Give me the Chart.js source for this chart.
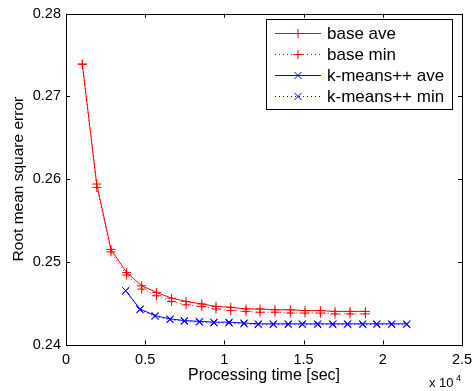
<!DOCTYPE html>
<html>
<head>
<meta charset="utf-8">
<script src="https://cdn.jsdelivr.net/npm/chart.js@4/dist/chart.umd.min.js"></script>
<style>
  html, body { margin: 0; padding: 0; background: #fff; }
  #wrap { width: 473px; height: 391px; position: relative; }
</style>
</head>
<body>
<div id="wrap"><canvas id="rmseChart"></canvas></div>
<script>
// processing time in seconds, RMSE values
const baseTime = [1030, 1940, 2840, 3830, 4780, 5720, 6670, 7580, 8570, 9470,
                  10400, 11360, 12250, 13190, 14160, 15090, 16060, 16980, 17930, 18900];
const baseAve  = [0.2739, 0.2594, 0.2515, 0.2487, 0.2471, 0.2463, 0.2456, 0.2452, 0.2449, 0.2446,
                  0.2445, 0.2443, 0.2443, 0.2442, 0.2442, 0.2441, 0.2441, 0.2440, 0.2440, 0.2440];
const baseMin  = [0.2739, 0.2590, 0.2512, 0.2484, 0.2467, 0.2459, 0.2452, 0.2448, 0.2446, 0.2443,
                  0.2441, 0.2440, 0.2439, 0.2439, 0.2438, 0.2438, 0.2438, 0.2437, 0.2437, 0.2437];

const kmTime = [3770, 4670, 5620, 6570, 7470, 8420, 9340, 10290, 11240, 12140,
                13090, 14030, 14920, 15890, 16840, 17780, 18730, 19620, 20560, 21510];
const kmAve  = [0.2465, 0.2443, 0.2435, 0.2431, 0.2429, 0.2428, 0.2427, 0.2427, 0.2426, 0.2425,
                0.2425, 0.2425, 0.2425, 0.2425, 0.2425, 0.2425, 0.2425, 0.2425, 0.2425, 0.2425];
const kmMin  = [0.2465, 0.2442, 0.2434, 0.2430, 0.2428, 0.2427, 0.2426, 0.2426, 0.2425, 0.2424,
                0.2424, 0.2424, 0.2424, 0.2424, 0.2424, 0.2424, 0.2424, 0.2424, 0.2424, 0.2424];

const seriesLabels = ['base ave', 'base min', 'k-means++ ave', 'k-means++ min'];
const xTicks = [0, 5000, 10000, 15000, 20000, 25000];
const yTicks = [0.24, 0.25, 0.26, 0.27, 0.28];

const FONT = "'Liberation Sans', Arial, Helvetica, sans-serif";

function pts(xs, ys) { return xs.map((x, i) => ({ x: x, y: ys[i] })); }

function series(label, data, color, style, dashed, radius) {
  return {
    label: label,
    data: data,
    borderColor: color,
    backgroundColor: color,
    borderWidth: 1,
    borderDash: dashed ? [1, 3] : [],
    pointStyle: style,
    pointRadius: radius,
    pointHoverRadius: radius,
    pointBorderColor: color,
    pointBorderWidth: 1,
    tension: 0,
    fill: false
  };
}

// matlab-like frame, inward ticks, legend box and exponent label
const matlabFrame = {
  id: 'matlabFrame',
  afterDraw(chart) {
    const ctx = chart.ctx;
    const a = chart.chartArea;
    const xs = chart.scales.x, ys = chart.scales.y;
    ctx.save();
    ctx.strokeStyle = '#000';
    ctx.lineWidth = 1;
    ctx.setLineDash([]);
    ctx.strokeRect(Math.round(a.left) + 0.5, Math.round(a.top) + 0.5,
                   Math.round(a.right - a.left), Math.round(a.bottom - a.top));
    const tl = 4;
    ctx.beginPath();
    xTicks.forEach(v => {
      const px = Math.round(xs.getPixelForValue(v)) + 0.5;
      ctx.moveTo(px, a.bottom); ctx.lineTo(px, a.bottom - tl);
      ctx.moveTo(px, a.top); ctx.lineTo(px, a.top + tl);
    });
    yTicks.forEach(v => {
      const py = Math.round(ys.getPixelForValue(v)) + 0.5;
      ctx.moveTo(a.left, py); ctx.lineTo(a.left + tl, py);
      ctx.moveTo(a.right, py); ctx.lineTo(a.right - tl, py);
    });
    ctx.stroke();

    // legend
    const lx = 266, ly = 19, lw = 186, lh = 90;
    ctx.fillStyle = '#fff';
    ctx.fillRect(lx, ly, lw, lh);
    ctx.strokeStyle = '#000';
    ctx.strokeRect(lx + 0.5, ly + 0.5, lw, lh);
    const rows = [33.5, 54.5, 75.5, 96.5];
    chart.data.datasets.forEach((ds, i) => {
      const y = rows[i];
      ctx.strokeStyle = ds.borderColor;
      ctx.lineWidth = 1;
      ctx.setLineDash(ds.borderDash);
      ctx.beginPath();
      ctx.moveTo(275, y); ctx.lineTo(321, y);
      ctx.stroke();
      ctx.setLineDash([]);
      ctx.fillStyle = ds.borderColor;
      Chart.helpers.drawPoint(ctx, { pointStyle: ds.pointStyle, radius: ds.pointRadius, borderWidth: 1, rotation: 0 }, 298, y);
      ctx.fillStyle = '#000';
      ctx.font = '17px ' + FONT;
      ctx.textAlign = 'left';
      ctx.textBaseline = 'alphabetic';
      ctx.fillText(ds.label, 327, y + 5.5);
    });

    // exponent
    ctx.fillStyle = '#000';
    ctx.textBaseline = 'alphabetic';
    ctx.font = '13px ' + FONT;
    ctx.fillText('x 10', 429, 387);
    ctx.font = '9px ' + FONT;
    ctx.fillText('4', 456, 381);
    ctx.restore();
  }
};

new Chart(document.getElementById('rmseChart'), {
  type: 'line',
  data: {
    datasets: [
      series(seriesLabels[0], pts(baseTime, baseAve), '#ff0000', 'cross', false, 4.5),
      series(seriesLabels[1], pts(baseTime, baseMin), '#ff0000', 'cross', true, 4.5),
      series(seriesLabels[2], pts(kmTime, kmAve), '#0000ff', 'crossRot', false, 5),
      series(seriesLabels[3], pts(kmTime, kmMin), '#0000ff', 'crossRot', true, 5)
    ]
  },
  options: {
    responsive: true,
    maintainAspectRatio: false,
    animation: false,
    layout: { padding: { top: 11, right: 0, left: 0, bottom: 0 } },
    plugins: { legend: { display: false }, tooltip: { enabled: false } },
    scales: {
      x: {
        type: 'linear',
        min: 0, max: 25000,
        afterBuildTicks: s => { s.ticks = xTicks.map(v => ({ value: v })); },
        afterFit: s => { s.height = 46.5; s.paddingRight = 11; },
        grid: { display: false, drawTicks: false },
        border: { display: false },
        ticks: {
          color: '#000', padding: 7,
          font: { family: FONT, size: 14.5 },
          callback: v => String(v / 10000)
        },
        title: {
          display: true, text: 'Processing time [sec]', color: '#000',
          font: { family: FONT, size: 16 }, padding: { top: 0, bottom: 6 }
        }
      },
      y: {
        type: 'linear',
        min: 0.24, max: 0.28,
        afterBuildTicks: s => { s.ticks = yTicks.map(v => ({ value: v })); },
        afterFit: s => { s.width = 66; },
        grid: { display: false, drawTicks: false },
        border: { display: false },
        ticks: {
          color: '#000', padding: 5,
          font: { family: FONT, size: 14.5 },
          callback: v => v.toFixed(2)
        },
        title: {
          display: true, text: 'Root mean square error', color: '#000',
          font: { family: FONT, size: 15.5 }, padding: { top: 9.5, bottom: 0 }
        }
      }
    }
  },
  plugins: [matlabFrame]
});
</script>
</body>
</html>
